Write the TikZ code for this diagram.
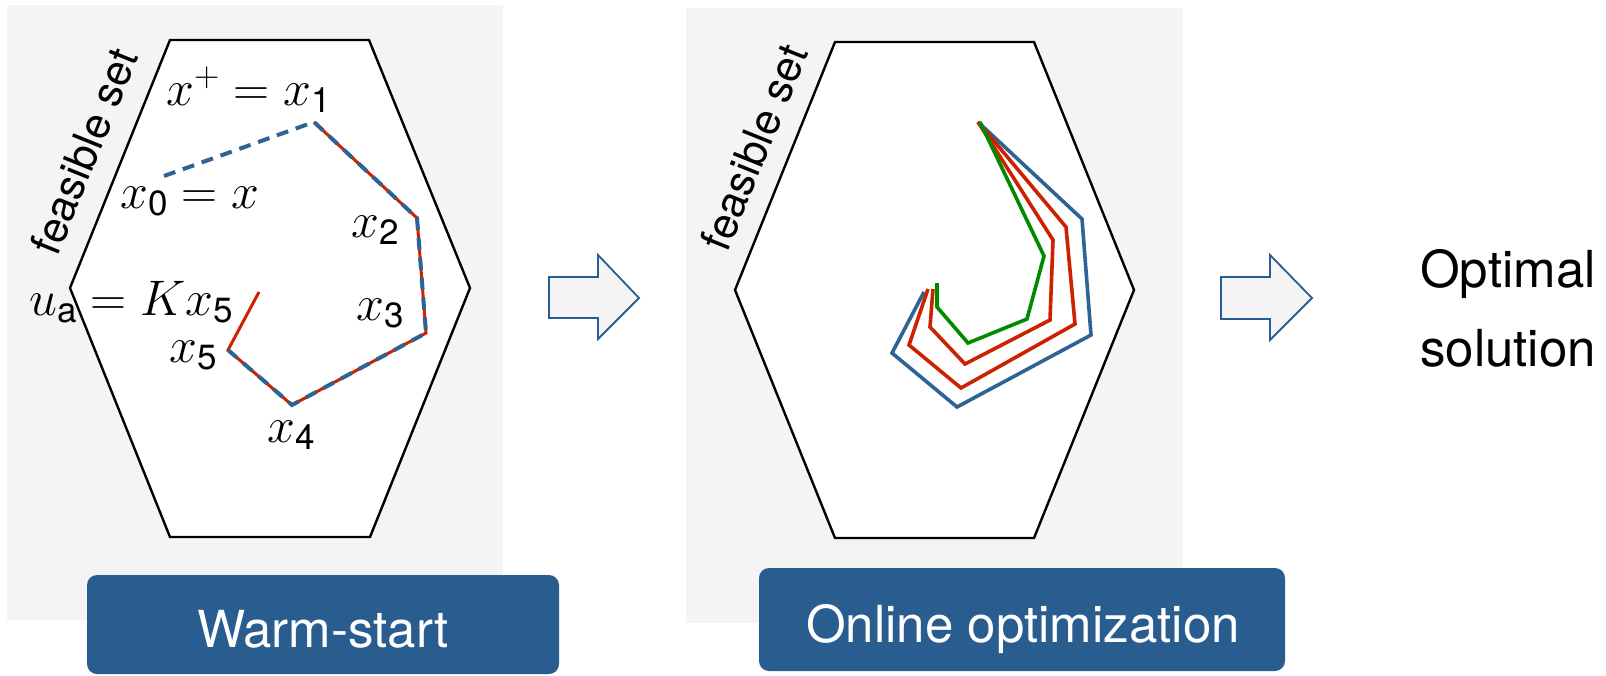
\RequirePackage{fix-cm}
\documentclass[tikz,border=0pt]{standalone}
\usepackage{fontspec}
\setsansfont{TeX Gyre Heros}
\newfontfamily\hv{TeX Gyre Heros}
\definecolor{panelgray}{HTML}{F4F4F4}
\definecolor{btnblue}{HTML}{295D8F}
\definecolor{trajblue}{HTML}{2E6396}
\definecolor{trajred}{HTML}{CC2200}
\definecolor{trajgreen}{HTML}{008A00}
\tikzset{
  panel/.style={fill=panelgray, draw=none},
  hexa/.style={draw=black, line width=2.4pt, fill=white},
  btn/.style={fill=btnblue, draw=none, rounded corners=10pt},
  btntext/.style={text=white, font=\hv\fontsize{51}{60}\selectfont, inner sep=0pt, anchor=base},
  lab/.style={font=\fontsize{50}{55}\selectfont, inner sep=0pt, anchor=base west},
  fsname/.style={font=\hv\fontsize{43}{48}\selectfont, rotate=68, inner sep=0pt},
  bigarrow/.style={fill=panelgray, draw=btnblue, line width=1.8pt},
  trajB/.style={draw=trajblue, line width=3.6pt},
  trajR/.style={draw=trajred, line width=3.6pt},
  trajRthin/.style={draw=trajred, line width=3pt},
  trajG/.style={draw=trajgreen, line width=3.6pt},
  dashB/.style={draw=trajblue, line width=4pt, dash pattern=on 12pt off 8pt},
  optname/.style={font=\hv\fontsize{51}{60}\selectfont, inner sep=0pt, anchor=base west},
}
\begin{document}
\begin{tikzpicture}[x=1pt,y=-1pt]
\useasboundingbox (0,0) rectangle (1606,675);
% panels
\fill[panel] (7,5) rectangle (503,620);
\fill[panel] (686,8) rectangle (1183,623);
% hexagons
\draw[hexa] (170,40) -- (369,40) -- (470,288) -- (370,537) -- (170,537) -- (70,288) -- cycle;
\draw[hexa] (835,42) -- (1034,42) -- (1134,290) -- (1034,538) -- (835,538) -- (735,290) -- cycle;
% left trajectory
\coordinate (x0) at (164,176);
\coordinate (x1) at (314,122);
\coordinate (x2) at (417,218);
\coordinate (x3) at (426,333);
\coordinate (x4) at (292,405);
\coordinate (x5) at (228,350);
\coordinate (xe) at (259,292);
\draw[trajRthin] (x1) -- (x2) -- (x3) -- (x4) -- (x5) -- (xe);
\draw[dashB] (x0) -- (x1) -- (x2) -- (x3) -- (x4) -- (x5);
% labels left
\node[lab] (l1) at (166,105) {$x^{+}=x_{\mathsf{1}}$};
\node[lab] (l0) at (120,208) {$x_{\mathsf{0}}=x$};
\node[lab] (l2) at (351,237) {$x_{\mathsf{2}}$};
\node[lab] (l3) at (356,320) {$x_{\mathsf{3}}$};
\node[lab] (lu) at (29,315) {$u_{\mathsf{a}}=Kx_{\mathsf{5}}$};
\node[lab] (l5) at (169,362) {$x_{\mathsf{5}}$};
\node[lab] (l4) at (267,442) {$x_{\mathsf{4}}$};
\node[fsname] (fs1) at (84,151) {feasible set};
% right trajectories
\coordinate (s) at (978,122);
\draw[trajB] (s) -- (1082,219) -- (1091,335) -- (957,407) -- (892,353) -- (924,292);
\draw[trajR] (s) -- (1066,227) -- (1075,324) -- (961,388) -- (909,345) -- (928,289);
\draw[trajR] (s) -- (1053,240) -- (1050,320) -- (965,364) -- (930,327) -- (933,289);
\draw[trajG] (980,122) -- (1044,256) -- (1027,319) -- (968,343) -- (937,307) -- (937,283);
\node[fsname] (fs2) at (754,147) {feasible set};
% buttons
\fill[btn] (87,575) rectangle (559,674);
\node[btntext] (b1) at (323,647) {Warm-start};
\fill[btn] (759,568) rectangle (1285,671);
\node[btntext] (b2) at (1023,642) {Online optimization};
% block arrows
\draw[bigarrow] (549,277) -- (598,277) -- (598,255) -- (639,298) -- (598,339) -- (598,318) -- (549,318) -- cycle;
\draw[bigarrow] (1221,277) -- (1270,277) -- (1270,255) -- (1312,298) -- (1270,340) -- (1270,319) -- (1221,319) -- cycle;
% result
\node[optname] (o1) at (1420,287) {Optimal};
\node[optname] (o2) at (1420,366) {solution};
\end{tikzpicture}
\end{document}
